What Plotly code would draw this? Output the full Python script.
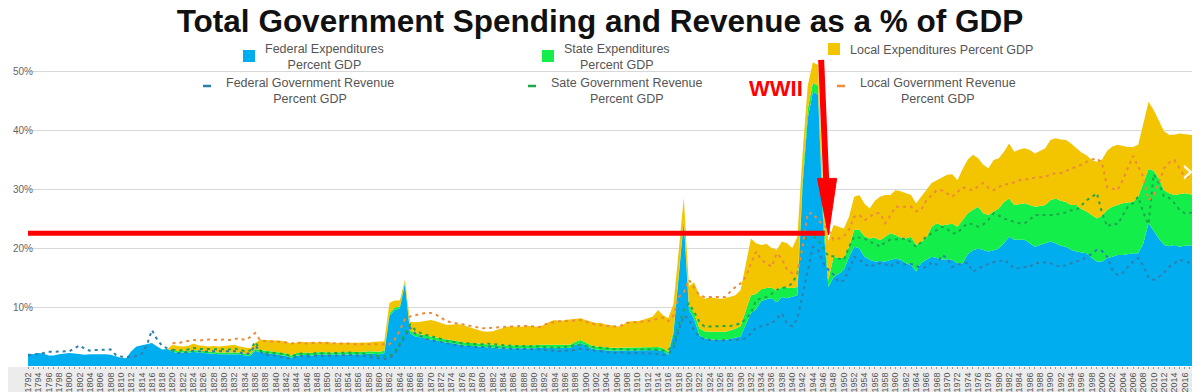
import plotly.graph_objects as go

# ---------------- data (percent of GDP) ----------------
years = list(range(1792, 2019))
years_sub = list(range(1820, 2019))

federal_exp = [
    2.1, 2.0, 2.2, 2.1, 1.8, 1.8, 2.0, 2.1, 2.2, 2.1,
    2.0, 1.9, 2.0, 2.0, 2.1, 2.0, 1.9, 1.6, 1.4, 1.3,
    2.5, 3.3, 3.5, 3.7, 3.9, 3.3, 2.8, 2.9, 2.4, 2.2,
    2.3, 2.2, 2.4, 2.3, 2.2, 2.1, 2.1, 2.0, 2.0, 2.0,
    2.1, 2.0, 1.8, 1.7, 2.6, 2.3, 2.2, 2.1, 2.0, 1.9,
    1.7, 1.4, 1.8, 1.8, 1.9, 1.8, 1.9, 2.0, 1.9, 1.9,
    1.9, 1.9, 1.9, 2.0, 2.0, 2.0, 2.1, 2.0, 2.0, 2.2,
    8.5, 9.5, 9.8, 14.0, 5.5, 5.0, 4.9, 4.7, 4.5, 4.3,
    4.1, 4.0, 3.9, 3.7, 3.6, 3.4, 3.4, 3.3, 3.3, 3.2,
    3.1, 3.0, 3.0, 3.0, 2.9, 2.9, 3.0, 3.0, 3.0, 3.1,
    3.1, 3.0, 3.1, 3.0, 3.0, 3.1, 3.6, 3.9, 3.5, 3.0,
    2.8, 2.7, 2.7, 2.6, 2.6, 2.6, 2.7, 2.7, 2.6, 2.6,
    2.6, 2.6, 2.7, 2.5, 1.9, 5.5, 15.0, 24.5, 9.5, 8.0,
    5.2, 4.7, 4.5, 4.5, 4.4, 4.4, 4.6, 4.8, 5.0, 7.0,
    9.0, 9.6, 11.0, 11.3, 11.5, 10.8, 11.7, 11.5, 11.7, 12.0,
    30.5, 42.0, 46.5, 46.0, 24.0, 13.4, 15.1, 15.6, 16.3, 18.5,
    20.2, 19.9, 18.5, 18.0, 17.7, 17.8, 17.7, 18.0, 18.2, 18.0,
    17.4, 17.1, 16.0, 17.5, 18.0, 18.5, 18.3, 18.0, 18.1, 18.0,
    17.4, 17.4, 19.0, 19.6, 19.9, 19.7, 19.4, 19.6, 19.9, 20.8,
    21.9, 21.4, 21.4, 21.4, 20.8, 20.2, 20.5, 20.8, 21.1, 20.8,
    20.4, 20.2, 19.7, 19.4, 19.2, 19.1, 18.3, 17.7, 17.7, 18.3,
    18.5, 18.8, 18.8, 19.0, 19.1, 19.1, 20.8, 24.2, 22.8, 21.6,
    20.5, 20.3, 20.5, 20.2, 20.4, 20.5, 20.5,
]

state_exp = [
    0, 0, 0, 0, 0, 0, 0, 0, 0, 0,
    0, 0, 0, 0, 0, 0, 0, 0, 0, 0,
    0, 0, 0, 0, 0, 0, 0, 0, 0.3, 0.3,
    0.3, 0.3, 0.3, 0.3, 0.3, 0.3, 0.3, 0.3, 0.3, 0.3,
    0.3, 0.3, 0.3, 0.3, 0.3, 0.4, 0.4, 0.4, 0.4, 0.4,
    0.4, 0.4, 0.4, 0.4, 0.4, 0.4, 0.4, 0.4, 0.4, 0.4,
    0.4, 0.4, 0.4, 0.4, 0.4, 0.4, 0.4, 0.4, 0.4, 0.4,
    0.4, 0.4, 0.3, 0.2, 0.5, 0.5, 0.5, 0.5, 0.5, 0.5,
    0.5, 0.5, 0.5, 0.5, 0.5, 0.5, 0.5, 0.5, 0.5, 0.5,
    0.5, 0.5, 0.5, 0.5, 0.5, 0.5, 0.5, 0.5, 0.5, 0.5,
    0.5, 0.5, 0.5, 0.5, 0.5, 0.5, 0.5, 0.5, 0.5, 0.5,
    0.5, 0.5, 0.5, 0.5, 0.5, 0.5, 0.5, 0.5, 0.5, 0.5,
    0.5, 0.5, 0.5, 0.5, 0.5, 0.4, 0.4, 0.4, 0.8, 1.0,
    1.2, 1.2, 1.3, 1.3, 1.3, 1.4, 1.4, 1.5, 1.8, 2.5,
    3.0, 2.6, 2.0, 1.9, 1.8, 1.9, 1.7, 1.8, 1.5, 1.4,
    1.3, 1.5, 1.5, 1.5, 2.0, 1.2, 3.4, 2.7, 2.0, 1.7,
    2.9, 3.2, 3.5, 3.6, 4.1, 3.5, 4.2, 4.5, 4.0, 3.8,
    4.2, 4.8, 4.5, 3.5, 3.8, 5.1, 5.9, 5.8, 5.9, 6.1,
    6.2, 7.4, 6.9, 6.9, 7.1, 6.2, 6.2, 6.6, 6.8, 7.0,
    6.5, 5.9, 6.1, 6.2, 6.5, 6.8, 6.6, 6.5, 7.0, 7.6,
    7.6, 7.6, 7.6, 7.9, 7.4, 7.1, 7.3, 7.3, 7.8, 8.2,
    8.5, 8.5, 8.8, 8.7, 8.7, 9.6, 10.2, 9.2, 10.3, 10.2,
    9.3, 9.0, 8.5, 8.9, 8.9, 8.6, 8.5,
]

local_exp = [
    0, 0, 0, 0, 0, 0, 0, 0, 0, 0,
    0, 0, 0, 0, 0, 0, 0, 0, 0, 0,
    0, 0, 0, 0, 0, 0, 0, 0, 0.9, 0.9,
    0.7, 0.9, 1.1, 0.9, 0.9, 0.9, 1.0, 1.0, 1.1, 1.2,
    1.2, 1.0, 1.0, 1.0, 1.0, 1.8, 1.8, 1.9, 1.9, 2.0,
    2.0, 2.0, 1.8, 1.9, 1.7, 1.9, 1.7, 1.6, 1.8, 1.6,
    1.6, 1.6, 1.6, 1.5, 1.6, 1.6, 1.5, 1.7, 1.7, 1.6,
    1.8, 1.2, 1.0, 0.4, 1.5, 1.9, 2.1, 2.4, 2.8, 2.8,
    2.7, 2.5, 2.6, 2.9, 2.9, 2.8, 2.5, 2.3, 2.1, 2.1,
    2.3, 2.7, 3.0, 3.2, 3.3, 3.2, 3.2, 3.3, 3.2, 3.1,
    3.4, 4.0, 4.2, 4.1, 4.3, 4.3, 3.8, 3.7, 3.8, 4.1,
    4.0, 4.1, 3.8, 3.8, 3.6, 3.7, 4.3, 4.4, 4.5, 4.7,
    5.0, 5.3, 6.3, 5.6, 5.7, 4.6, 4.0, 3.6, 3.2, 5.2,
    5.6, 5.5, 5.8, 5.7, 5.7, 5.7, 5.7, 5.7, 6.1, 7.5,
    9.6, 8.6, 7.5, 7.5, 6.7, 7.0, 7.7, 7.5, 6.8, 8.5,
    4.2, 4.0, 3.5, 3.5, 4.0, 6.6, 5.4, 5.3, 5.0, 5.1,
    5.6, 5.9, 5.5, 5.1, 6.2, 7.4, 7.1, 6.5, 7.6, 7.8,
    7.7, 7.1, 7.1, 7.8, 8.0, 7.4, 7.3, 8.2, 8.4, 8.4,
    7.9, 8.6, 9.1, 9.3, 8.2, 8.2, 7.9, 8.7, 8.5, 8.5,
    9.3, 9.0, 9.2, 9.3, 9.3, 9.0, 9.4, 9.6, 10.2, 10.2,
    10.4, 10.5, 10.4, 9.6, 9.6, 9.5, 9.3, 9.6, 9.5, 10.0,
    10.2, 10.2, 9.7, 9.4, 9.3, 8.8, 10.1, 11.4, 10.3, 9.7,
    10.0, 9.9, 10.2, 10.3, 10.0, 10.1, 10.1,
]

federal_rev = [
    1.8, 1.9, 2.0, 2.2, 2.4, 2.4, 2.4, 2.5, 2.5, 3.0,
    3.5, 2.9, 2.6, 2.7, 2.7, 2.8, 2.8, 1.9, 1.6, 1.5,
    1.6, 1.7, 2.0, 3.5, 6.1, 4.5, 3.4, 3.0, 2.6, 2.2,
    2.2, 2.4, 2.6, 2.5, 2.4, 2.5, 2.5, 2.4, 2.5, 2.4,
    2.5, 2.3, 2.0, 2.2, 3.5, 2.4, 1.8, 1.9, 1.7, 1.6,
    1.4, 1.2, 1.6, 1.7, 1.6, 1.7, 1.8, 1.7, 1.8, 1.8,
    1.8, 1.9, 1.9, 1.8, 1.8, 1.7, 1.5, 1.4, 1.3, 1.2,
    1.3, 2.0, 3.5, 5.0, 6.5, 5.5, 5.0, 4.6, 4.4, 4.2,
    4.0, 3.8, 3.6, 3.5, 3.4, 3.3, 3.3, 3.2, 3.2, 3.3,
    3.2, 3.1, 3.0, 2.9, 2.9, 2.9, 2.9, 2.8, 2.8, 2.8,
    2.7, 2.6, 2.5, 2.5, 2.6, 2.6, 2.7, 2.9, 2.8, 2.7,
    2.5, 2.4, 2.3, 2.2, 2.2, 2.3, 2.2, 2.1, 2.2, 2.2,
    2.2, 2.1, 2.0, 1.9, 2.0, 3.0, 6.0, 8.5, 8.0, 6.0,
    5.0, 4.5, 4.4, 4.3, 4.3, 4.4, 4.4, 4.5, 4.5, 4.7,
    5.5, 6.5, 6.8, 7.0, 7.2, 8.0, 8.9, 7.2, 6.7, 8.0,
    12.0, 15.7, 20.2, 19.7, 17.5, 16.3, 15.5, 14.2, 14.5, 16.3,
    18.5, 18.0, 17.3, 16.8, 17.2, 17.4, 17.3, 16.8, 17.6, 17.4,
    17.2, 17.3, 17.0, 16.6, 16.8, 17.6, 17.2, 18.8, 18.3, 16.8,
    17.2, 17.4, 17.5, 16.0, 16.4, 17.0, 17.3, 17.6, 17.7, 18.0,
    17.4, 16.5, 16.6, 16.8, 16.8, 17.5, 17.4, 17.6, 17.4, 17.1,
    16.8, 17.1, 17.4, 17.7, 18.0, 18.5, 19.0, 19.7, 19.5, 18.5,
    16.3, 15.4, 15.8, 16.8, 17.7, 18.3, 17.0, 15.0, 14.6, 15.1,
    15.8, 16.8, 17.4, 18.0, 17.8, 17.5, 18.3,
]

# cumulative (federal + state) revenue level, as drawn
state_rev_level = [
    2.8, 2.6, 2.7, 2.8, 3.1, 2.9, 2.9, 2.9, 2.9, 2.8,
    2.9, 2.8, 3.0, 2.8, 2.5, 2.6, 4.1, 2.6, 2.2, 2.3,
    2.2, 2.1, 2.0, 1.6, 2.0, 2.1, 2.0, 2.1, 2.2, 2.1,
    2.2, 2.2, 2.2, 2.3, 2.3, 2.2, 2.2, 2.1, 1.9, 1.8,
    1.7, 1.6, 1.7, 2.4, 3.9, 5.4, 7.0, 6.1, 5.6, 5.3,
    5.1, 4.8, 4.6, 4.3, 4.1, 4.0, 3.9, 3.8, 3.8, 3.7,
    3.7, 3.8, 3.7, 3.6, 3.5, 3.4, 3.4, 3.4, 3.4, 3.3,
    3.3, 3.3, 3.2, 3.1, 3.1, 3.1, 3.2, 3.3, 3.4, 3.6,
    3.4, 3.3, 3.1, 3.0, 2.9, 2.8, 2.8, 2.9, 2.8, 2.7,
    2.8, 2.8, 2.9, 2.8, 2.7, 2.6, 2.7, 3.6, 6.8, 9.5,
    10.6, 9.2, 7.5, 6.7, 6.7, 6.7, 6.7, 6.8, 6.8, 7.0,
    7.2, 8.0, 8.9, 11.2, 11.5, 11.7, 12.2, 12.9, 13.2, 13.4,
    14.0, 15.7, 20.2, 22.5, 22.0, 21.4, 20.0, 18.6, 18.6, 18.2,
    18.0, 20.2, 21.9, 21.8, 21.6, 21.0, 20.8, 20.2, 21.0, 21.4,
    21.5, 21.6, 21.6, 21.0, 20.2, 21.0, 22.0, 22.5, 23.0, 23.6,
    23.2, 22.5, 22.5, 23.5, 24.2, 24.0, 23.6, 24.0, 24.8, 25.9,
    25.5, 25.0, 24.7, 24.4, 24.2, 24.2, 24.8, 25.6, 25.6, 25.6,
    25.6, 25.6, 25.9, 26.0, 26.4, 26.4, 27.2, 28.1, 28.6, 29.3,
    25.9, 23.6, 24.2, 24.0, 25.5, 27.0, 27.6, 28.7, 26.0, 24.0,
    32.5, 31.0, 28.7, 28.5, 27.6, 26.5, 25.9, 25.9, 26.0,
]

# cumulative (federal + state + local) revenue level, as drawn
local_rev_level = [
    3.9, 3.8, 4.1, 4.3, 4.4, 4.3, 4.4, 4.5, 4.4, 4.5,
    4.5, 4.4, 4.6, 4.7, 4.4, 4.9, 5.6, 4.3, 4.2, 4.2,
    4.1, 4.1, 4.0, 3.8, 4.0, 3.9, 3.8, 3.9, 4.0, 3.9,
    3.9, 3.9, 3.8, 3.8, 3.8, 3.7, 3.7, 3.7, 3.7, 3.6,
    3.6, 3.6, 3.7, 4.5, 6.0, 8.0, 8.4, 8.6, 8.8, 9.0,
    9.0, 8.7, 8.2, 7.6, 7.4, 7.3, 7.1, 6.9, 6.7, 6.5,
    6.4, 6.4, 6.5, 6.5, 6.6, 6.7, 6.7, 6.8, 6.8, 6.8,
    6.7, 6.6, 7.0, 7.3, 7.5, 7.6, 7.6, 7.7, 7.7, 7.8,
    7.5, 7.2, 7.0, 6.9, 6.8, 6.7, 6.7, 6.9, 7.3, 7.4,
    7.4, 7.5, 7.6, 7.8, 8.0, 8.2, 7.6, 8.5, 11.7, 12.5,
    14.6, 13.4, 12.0, 11.7, 11.7, 11.6, 11.7, 11.7, 12.6, 13.4,
    14.0, 15.1, 17.4, 19.4, 18.0, 17.4, 16.8, 19.1, 18.2, 16.3,
    15.7, 15.7, 20.2, 25.9, 25.9, 24.7, 24.0, 23.1, 21.4, 21.6,
    22.0, 23.1, 25.3, 25.6, 24.7, 25.3, 25.9, 25.9, 24.2, 25.5,
    27.0, 27.0, 27.0, 27.0, 26.2, 26.5, 28.1, 29.0, 29.8, 29.8,
    29.3, 28.7, 29.5, 30.3, 30.0, 29.8, 30.5, 31.0, 30.2, 29.8,
    30.3, 30.8, 30.8, 31.2, 31.5, 31.6, 31.8, 31.9, 32.0, 32.1,
    32.4, 32.7, 32.7, 33.0, 33.4, 33.8, 34.1, 34.6, 35.0, 35.2,
    34.4, 30.3, 30.0, 29.8, 31.5, 33.5, 35.6, 33.8, 32.1, 28.1,
    29.0, 31.0, 33.5, 34.5, 34.9, 33.5, 32.1, 32.0, 32.4,
]

y_ticks = [10, 20, 30, 40, 50]
y_tick_text = ["10%", "20%", "30%", "40%", "50%"]
x_ticks = years[::2]
x_tick_text = [str(y) for y in x_ticks]

title_text = "Total Government Spending and Revenue as a % of GDP"
legend_exp = ["Federal Expenditures<br>Percent GDP",
              "State Expenditures<br>Percent GDP",
              "Local Expenditures Percent GDP"]
legend_rev = ["Federal Government Revenue<br>Percent GDP",
              "Sate Government Revenue<br>Percent GDP",
              "Local Government Revenue<br>Percent GDP"]

# red annotation levels
ref_level = 22.5
wwii_year = 1946

# ---------------- styling ----------------
BLUE = "#00AEEF"
GREEN = "#14EE4A"
GOLD = "#F3C500"
BLUE_L = "#2E7FAE"
GREEN_L = "#1FA84A"
ORANGE_L = "#EE8A3C"
RED = "#FF0000"

# the page places the figure 8px from the top-left corner of the window
OFF = 8
W, H = 1200 - OFF, 392 - OFF
ML, MR, MT, MB = 28 - OFF, 5, 10 - OFF, 26
PW, PH = W - ML - MR, H - MT - MB


def xp(px):  # window pixel -> paper fraction
    return (px - OFF - ML) / PW


def yp(py):
    return (H - MB - (py - OFF)) / PH


fig = go.Figure()

for vals, col, name in [(federal_exp, BLUE, legend_exp[0]),
                        (state_exp, GREEN, legend_exp[1]),
                        (local_exp, GOLD, legend_exp[2])]:
    fig.add_trace(go.Scatter(x=years, y=vals, stackgroup="exp", mode="lines",
                             line=dict(width=0, color=col), fillcolor=col,
                             name=name, showlegend=False))

dash = "3px,4px"
fig.add_trace(go.Scatter(x=years, y=federal_rev, mode="lines",
                         line=dict(color=BLUE_L, width=2, dash=dash),
                         name=legend_rev[0], showlegend=False))
fig.add_trace(go.Scatter(x=years_sub, y=state_rev_level, mode="lines",
                         line=dict(color=GREEN_L, width=2, dash=dash),
                         name=legend_rev[1], showlegend=False))
fig.add_trace(go.Scatter(x=years_sub, y=local_rev_level, mode="lines",
                         line=dict(color=ORANGE_L, width=2, dash=dash),
                         name=legend_rev[2], showlegend=False))

shapes = []
annotations = []

# grey band behind x tick labels
shapes.append(dict(type="rect", xref="paper", yref="paper",
                   x0=xp(0), x1=xp(1200), y0=yp(392), y1=yp(367),
                   fillcolor="#ececec", line=dict(width=0), layer="below"))

# legend swatches (squares + dashes) and texts
LEG_FONT = dict(family="Liberation Sans, Arial, sans-serif", size=12.5, color="#555555")
sq = [(243, 50, BLUE), (542, 50, GREEN), (828, 43, GOLD)]
for x0, y0, col in sq:
    shapes.append(dict(type="rect", xref="paper", yref="paper",
                       x0=xp(x0), x1=xp(x0 + 12), y0=yp(y0 + 12), y1=yp(y0),
                       fillcolor=col, line=dict(width=0)))
dsh = [(203, BLUE_L), (528, GREEN_L), (837, ORANGE_L)]
for x0, col in dsh:
    shapes.append(dict(type="line", xref="paper", yref="paper",
                       x0=xp(x0), x1=xp(x0 + 8), y0=yp(86), y1=yp(86),
                       line=dict(color=col, width=2.5)))

for txt, cx, cy in [(legend_exp[0], 324, 57), (legend_exp[1], 617, 57),
                    (legend_exp[2], 941, 50),
                    (legend_rev[0], 310, 91), (legend_rev[1], 627, 91),
                    (legend_rev[2], 938, 91)]:
    annotations.append(dict(text=txt, xref="paper", yref="paper",
                            x=xp(cx), y=yp(cy), xanchor="center", yanchor="middle",
                            align="center", showarrow=False, font=LEG_FONT))

# red reference line and WWII arrow
shapes.append(dict(type="line", xref="x", yref="y", x0=1791.0, x1=wwii_year + 0.3,
                   y0=ref_level, y1=ref_level, line=dict(color=RED, width=5)))
shapes.append(dict(type="line", xref="x", yref="y", x0=wwii_year - 0.4, x1=wwii_year + 0.6,
                   y0=51.9, y1=31.0, line=dict(color=RED, width=6)))
shapes.append(dict(type="path", xref="x", yref="y",
                   path=f"M {wwii_year - 1.1},31.8 L {wwii_year + 2.6},31.8 L {wwii_year + 1.0},{ref_level - 0.3} Z",
                   fillcolor=RED, line=dict(color=RED, width=1)))
annotations.append(dict(text="<b>WWII</b>", xref="paper", yref="paper",
                        x=xp(776), y=yp(88), xanchor="center", yanchor="middle",
                        showarrow=False,
                        font=dict(family="Liberation Sans, Arial, sans-serif",
                                  size=22, color=RED)))

# video overlay chevron on the right
annotations.append(dict(text="›", xref="paper", yref="paper", x=xp(1188), y=yp(170),
                        xanchor="center", yanchor="middle", showarrow=False,
                        font=dict(family="DejaVu Sans", size=34, color="rgba(255,255,255,0.9)")))

fig.update_layout(
    width=W, height=H,
    margin=dict(l=ML, r=MR, t=MT, b=MB),
    paper_bgcolor="white", plot_bgcolor="white",
    title=dict(text=f"<b>{title_text}</b>", x=(600 - OFF) / W, xanchor="center",
               y=1 - (21 - OFF) / H, yanchor="middle", yref="container",
               font=dict(family="Liberation Sans, Arial, sans-serif", size=31.5, color="#111111")),
    showlegend=False,
    shapes=shapes,
    annotations=annotations,
    xaxis=dict(range=[1792, 2018], tickvals=x_ticks, ticktext=x_tick_text,
               tickangle=-90, tickfont=dict(family="Liberation Sans, Arial", size=9, color="#555555"),
               showgrid=False, zeroline=False, showline=False,
               ticks="outside", ticklen=2, tickcolor="#999999",
               minor=dict(dtick=1, ticks="outside", ticklen=2, tickcolor="#999999"),
               automargin=False, fixedrange=True),
    yaxis=dict(range=[0, PH / 5.9], tickvals=y_ticks, ticktext=y_tick_text,
               tickfont=dict(family="Liberation Sans, Arial", size=10, color="#666666"),
               ticklabelstandoff=-6,
               showgrid=True, gridcolor="#d8d8d8", gridwidth=1,
               zeroline=False, showline=False, ticks="", automargin=False,
               fixedrange=True),
)

fig.write_html("out.html")
